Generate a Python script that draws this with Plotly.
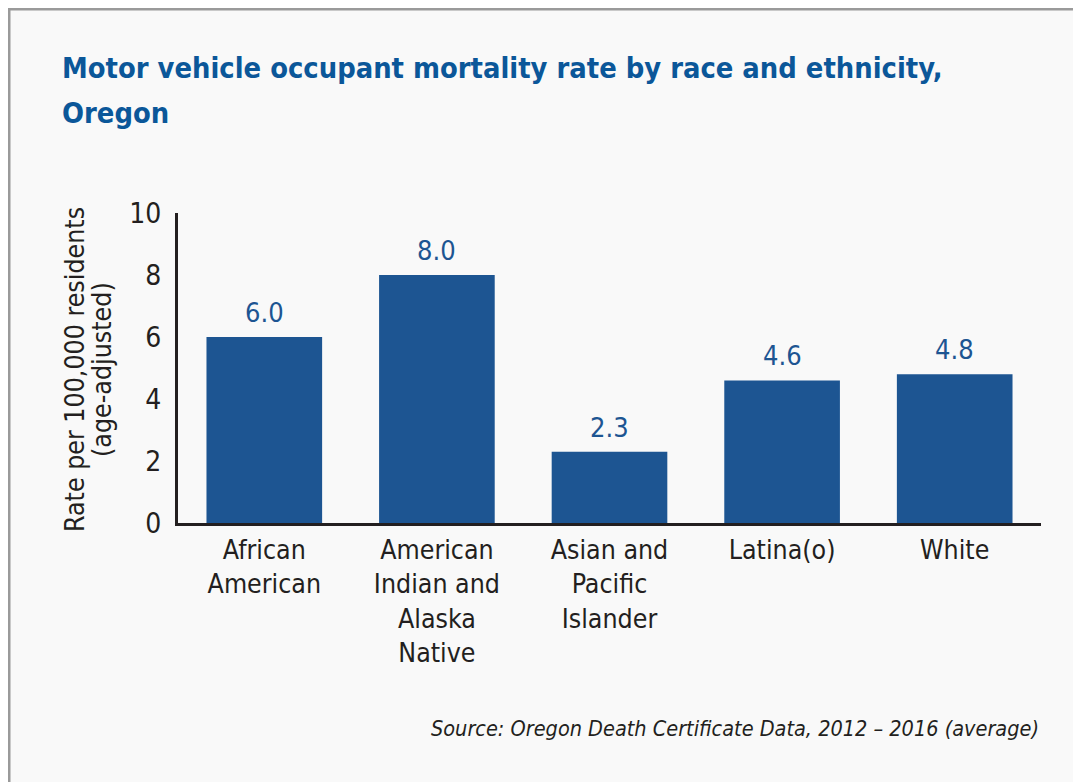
import plotly.graph_objects as go

categories = ["African<br>American", "American<br>Indian and<br>Alaska<br>Native",
              "Asian and<br>Pacific<br>Islander", "Latina(o)", "White"]
rates = [6.0, 8.0, 2.3, 4.6, 4.8]
y_ticks = [0, 2, 4, 6, 8, 10]

OFF = 8  # page body margin
W, H = 1081, 782
L, R, T, B = 178 - OFF, 1041 - OFF, 213 - OFF, 523 - OFF  # plot area in figure pixels
FONT = "Liberation Sans Narrow, DejaVu Sans Condensed, Arial Narrow, sans-serif"
BLUE = "#1d5592"
TITLE_BLUE = "#0b5799"
INK = "#231f20"


def px_x(p):  # screen pixel -> paper
    return (p - OFF - L) / (R - L)


def px_y(p):
    return (B - (p - OFF)) / (B - T)


fig = go.Figure()
fig.add_trace(go.Bar(
    x=categories, y=rates,
    marker=dict(color=BLUE, line=dict(width=0)),
    hoverinfo="skip",
))

annotations = []
for c, v in zip(categories, rates):
    annotations.append(dict(
        x=c, y=v, xref="x", yref="y", text=f"{v:.1f}", showarrow=False,
        yanchor="bottom", yshift=7,
        font=dict(family=FONT, size=27, color=BLUE),
    ))

title_lines = ["Motor vehicle occupant mortality rate by race and ethnicity,", "Oregon"]
for line, top in zip(title_lines, [49, 94]):
    annotations.append(dict(
        x=px_x(60), y=px_y(top), xref="paper", yref="paper",
        xanchor="left", yanchor="top", align="left", showarrow=False,
        text=f"<b>{line}</b>",
        font=dict(family=FONT, size=28.8, color=TITLE_BLUE),
    ))

for line, xc in zip(["Rate per 100,000 residents", "(age-adjusted)"], [74, 101]):
    annotations.append(dict(
        x=px_x(xc), y=px_y(370), xref="paper", yref="paper",
        xanchor="center", yanchor="middle", showarrow=False, textangle=-90,
        text=line, font=dict(family=FONT, size=26.5, color=INK),
    ))

annotations.append(dict(
    x=px_x(1041), y=px_y(743), xref="paper", yref="paper",
    xanchor="right", yanchor="bottom", showarrow=False,
    text="<i>Source: Oregon Death Certificate Data, 2012 \u2013 2016 (average)</i>",
    font=dict(family=FONT, size=21.5, color=INK),
))

shapes = [dict(
    type="rect", xref="paper", yref="paper",
    x0=px_x(OFF + 1), x1=px_x(1081 + 40), y0=px_y(OFF + 1), y1=px_y(782 + 40),
    fillcolor="#f9f9f9", line=dict(color="#9a9a9a", width=3), layer="below",
)]

fig.update_layout(
    width=W, height=H,
    margin=dict(l=L, r=W - R, t=T, b=H - B, pad=0),
    paper_bgcolor="#f9f9f9", plot_bgcolor="rgba(0,0,0,0)",
    bargap=0.33, showlegend=False,
    font=dict(family=FONT, color=INK),
    annotations=annotations, shapes=shapes,
    xaxis=dict(
        showline=True, linecolor=INK, linewidth=3, ticks="",
        tickfont=dict(family=FONT, size=26.5, color=INK),
        showgrid=False, zeroline=False, ticklabelstandoff=1,
    ),
    yaxis=dict(
        range=[0, 10], tickvals=y_ticks, showline=True, linecolor=INK,
        linewidth=3, ticks="", showgrid=False, zeroline=False,
        tickfont=dict(family=FONT, size=28, color=INK),
        ticklabelstandoff=8,
    ),
)

fig.write_html("out.html")
